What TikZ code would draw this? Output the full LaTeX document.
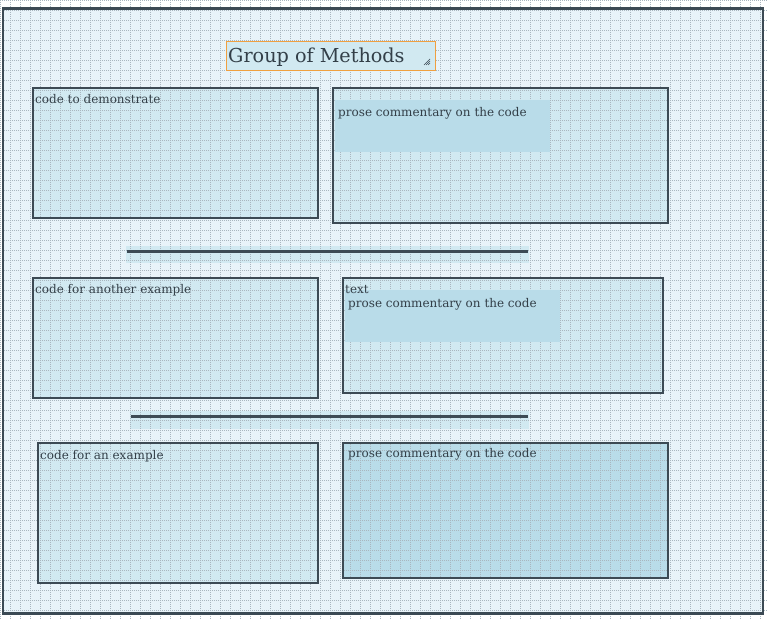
\documentclass[tikz,border=0pt]{standalone}
\usepackage{fontspec}
\setmainfont{DejaVu Serif}
\usetikzlibrary{calc}
\pgfdeclarelayer{bg}
\pgfdeclarelayer{grid}
\pgfsetlayers{bg,grid,main}
\definecolor{pagebg}{HTML}{E8F3F9}
\definecolor{boxfill}{HTML}{D1E9F1}
\definecolor{hifill}{HTML}{B9DCE9}
\definecolor{border}{HTML}{3C4A54}
\definecolor{txt}{HTML}{333F48}
\definecolor{gridc}{HTML}{A9B6BF}
\definecolor{orange}{HTML}{F0A040}
\tikzset{
  frame/.style={draw=border, line width=2.6pt, inner sep=0pt, anchor=north west},
  panel/.style={draw=border, line width=2.4pt, inner sep=0pt, anchor=north west},
  hibox/.style={inner sep=0pt, anchor=north west, fill=hifill},
  label/.style={anchor=base west, inner sep=0pt, text=txt, font=\fontsize{12}{14}\selectfont},
  sepline/.style={draw=border, line width=2.2pt},
  gridline/.style={gridc, line width=0.6pt, dash pattern=on 0.8pt off 1.2pt},
}
\begin{document}
\begin{tikzpicture}[x=1pt,y=-1pt]
\useasboundingbox (0,0) rectangle (768,620);
\begin{pgfonlayer}{bg}
  \fill[white] (0,0) rectangle (768,620);
\end{pgfonlayer}
% outer frame
\node[frame, minimum width=760pt, minimum height=605pt] (outer) at (1.5,7) {};
% title
\node[draw=orange, line width=1pt, fill=boxfill, inner sep=0pt, anchor=north west,
      minimum width=209pt, minimum height=29pt] (titlebox) at (226,41) {};
\node[anchor=base west, inner sep=0pt, text=txt, font=\fontsize{19.2}{21}\selectfont] (title) at (228,63) {Group of Methods};
\coordinate (grip) at ($(titlebox.south east)+(-6,-6)$);
\foreach \d in {0,2,4}{
  \draw[border, line width=0.7pt] ($(grip)+(-6+\d,0)$) -- ($(grip)+(0,-6+\d)$);
}
% row 1
\node[panel, minimum width=285pt, minimum height=130pt] (code1) at (32,87) {};
\node[panel, minimum width=335pt, minimum height=135pt] (prose1) at (332,87) {};
\node[hibox, minimum width=215pt, minimum height=52pt] (hi1) at (335,100) {};
\node[label] (t1) at (35,104) {code to demonstrate};
\node[label] (p1) at (338,117) {prose commentary on the code};
% separator 1
\coordinate (s1a) at (127,251.5);
\coordinate (s1b) at (528,251.5);
% row 2
\node[panel, minimum width=285pt, minimum height=120pt] (code2) at (32,277) {};
\node[panel, minimum width=320pt, minimum height=115pt] (prose2) at (342,277) {};
\node[hibox, minimum width=215pt, minimum height=52pt] (hi2) at (345,290) {};
\node[label] (t2) at (35,294) {code for another example};
\node[label] (tx) at (345,293.5) {text};
\node[label] (p2) at (348,307) {prose commentary on the code};
% separator 2
\coordinate (s2a) at (131,416.5);
\coordinate (s2b) at (528,416.5);
% row 3
\node[panel, minimum width=280pt, minimum height=140pt] (code3) at (37,442) {};
\node[panel, minimum width=325pt, minimum height=135pt] (prose3) at (342,442) {};
\node[label] (t3) at (40,459) {code for an example};
\node[label] (p3) at (348,457) {prose commentary on the code};
\draw[sepline] (s1a) -- (s1b);
\draw[sepline] (s2a) -- (s2b);
\begin{pgfonlayer}{bg}
  \fill[pagebg] (outer.north west) rectangle (outer.south east);
  \fill[boxfill] (code1.north west) rectangle (code1.south east);
  \fill[boxfill] (prose1.north west) rectangle (prose1.south east);
  \fill[boxfill] (code2.north west) rectangle (code2.south east);
  \fill[boxfill] (prose2.north west) rectangle (prose2.south east);
  \fill[boxfill] (code3.north west) rectangle (code3.south east);
  \fill[hifill] (prose3.north west) rectangle (prose3.south east);
  \fill[boxfill] ($(s1a)+(-1,-5.5)$) rectangle ($(s1b)+(1,12)$);
  \fill[boxfill] ($(s2a)+(-1,-5.5)$) rectangle ($(s2b)+(1,12)$);
\end{pgfonlayer}
\begin{pgfonlayer}{grid}
  \foreach \i in {0,...,76}{
    \draw[gridline] (\i*10+0.5,0) -- (\i*10+0.5,620);
  }
  \foreach \j in {0,...,62}{
    \draw[gridline] (0,\j*10+0.5) -- (768,\j*10+0.5);
  }
\end{pgfonlayer}
\end{tikzpicture}
\end{document}
